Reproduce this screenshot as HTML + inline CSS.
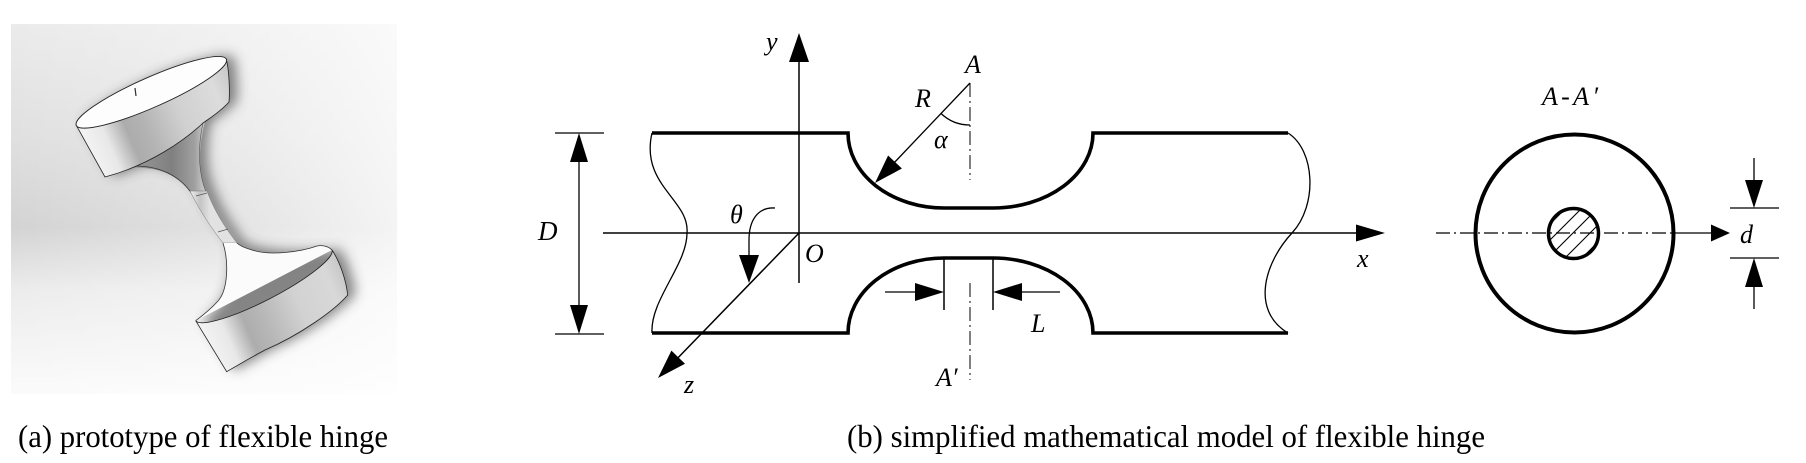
<!DOCTYPE html>
<html>
<head>
<meta charset="utf-8">
<style>
  html,body{margin:0;padding:0;background:#fff;}
  svg{display:block;}
  .lbl{font-family:"Liberation Serif","DejaVu Serif",serif;font-style:italic;font-size:26px;fill:#000;}
  .cap{font-family:"Liberation Serif","DejaVu Serif",serif;font-size:32px;fill:#000;}
</style>
</head>
<body>
<svg width="1806" height="463" viewBox="0 0 1806 463" xmlns="http://www.w3.org/2000/svg">
  <defs>
    <linearGradient id="bgV" x1="0" y1="0" x2="0" y2="1">
      <stop offset="0" stop-color="#ebebeb"/>
      <stop offset="0.3" stop-color="#e0e0e0"/>
      <stop offset="0.55" stop-color="#d3d3d3"/>
      <stop offset="0.72" stop-color="#ececec"/>
      <stop offset="1" stop-color="#fbfbfb"/>
    </linearGradient>
    <linearGradient id="bgH" x1="0" y1="0" x2="1" y2="0">
      <stop offset="0" stop-color="#fff" stop-opacity="0"/>
      <stop offset="0.5" stop-color="#fff" stop-opacity="0.3"/>
      <stop offset="1" stop-color="#fff" stop-opacity="0.75"/>
    </linearGradient>
    <linearGradient id="side1" gradientUnits="userSpaceOnUse" x1="76" y1="126" x2="229" y2="60">
      <stop offset="0" stop-color="#f4f4f4"/>
      <stop offset="0.14" stop-color="#e8e8e8"/>
      <stop offset="0.27" stop-color="#acacac"/>
      <stop offset="0.38" stop-color="#b3b3b3"/>
      <stop offset="0.6" stop-color="#d0d0d0"/>
      <stop offset="0.85" stop-color="#dcdcdc"/>
      <stop offset="1" stop-color="#c4c4c4"/>
    </linearGradient>
    <linearGradient id="side2" gradientUnits="userSpaceOnUse" x1="196" y1="321" x2="345" y2="256">
      <stop offset="0" stop-color="#f4f4f4"/>
      <stop offset="0.14" stop-color="#e8e8e8"/>
      <stop offset="0.27" stop-color="#adadad"/>
      <stop offset="0.4" stop-color="#b8b8b8"/>
      <stop offset="0.62" stop-color="#d2d2d2"/>
      <stop offset="0.85" stop-color="#d8d8d8"/>
      <stop offset="1" stop-color="#c0c0c0"/>
    </linearGradient>
    <linearGradient id="flare" gradientUnits="userSpaceOnUse" x1="130" y1="0" x2="206" y2="0">
      <stop offset="0" stop-color="#9a9a9a"/>
      <stop offset="0.55" stop-color="#808080"/>
      <stop offset="0.85" stop-color="#a0a0a0"/>
      <stop offset="1" stop-color="#d0d0d0"/>
    </linearGradient>
    <linearGradient id="neck" gradientUnits="userSpaceOnUse" x1="190" y1="0" x2="210" y2="0">
      <stop offset="0" stop-color="#eeeeee"/>
      <stop offset="0.5" stop-color="#c4c4c4"/>
      <stop offset="1" stop-color="#e2e2e2"/>
    </linearGradient>
    <filter id="blur" x="-30%" y="-30%" width="160%" height="160%">
      <feGaussianBlur stdDeviation="6"/>
    </filter>
    <clipPath id="inner">
      <circle cx="1573.5" cy="233.5" r="25"/>
    </clipPath>
    <clipPath id="photo">
      <rect x="11" y="24" width="386" height="370"/>
    </clipPath>
  </defs>

  <!-- ===== (a) photo ===== -->
  <rect x="11" y="24" width="386" height="370" fill="url(#bgV)"/>
  <rect x="11" y="24" width="386" height="370" fill="url(#bgH)"/>
  <g clip-path="url(#photo)">
    <!-- shadow -->
    <g transform="translate(8,-1)" filter="url(#blur)" opacity="0.6" fill="#3a3a3a">
      <ellipse cx="151.3" cy="92.3" rx="82" ry="15" transform="rotate(-23.8 151.3 92.3)"/>
      <path d="M76.3,125.4 L226.3,59.2 C229,70 230,90 229,102 C220,112 210,118 203,123 C185,140 150,165 105,177 Z"/>
      <path d="M135,166 L203,123 C197,150 199,175 207,191 C215,213 228,230 237,243 C260,254 300,252 332,250 C340,262 346,280 347.7,295 C335,310 300,335 265,350 L226.7,371.7 L195.7,320.7 C210,310 228,290 223,243 C205,220 197,205 190,192 C180,176 160,166 135,166 Z"/>
    </g>
    <!-- top flare -->
    <path d="M130,168 C160,166 180,176 192,194 L206,192 C199,175 197,150 206,118 Z" fill="url(#flare)"/>
    <path d="M135,166 C160,166 180,176 192,194" fill="none" stroke="#333" stroke-width="0.7"/>
    <path d="M203,123 C197,150 199,175 206,192" fill="none" stroke="#555" stroke-width="0.6"/>
    <!-- neck -->
    <path d="M190,191 C197,205 206,221 223,243 L237,243 C227,230 215,213 207,191 Z" fill="url(#neck)" stroke="#777" stroke-width="0.5"/>
    <path d="M196,196 L207,193 M218,232 L228,229" stroke="#555" stroke-width="0.7"/>
    <!-- bottom flare + face -->
    <path d="M223,243 C229,262 228,290 218,301 C210,310 202,316 195.7,320.7 L332,250 C328,246 322,245 317,246 C300,252 270,256 252,250 C245,248 240,246 237,243 Z" fill="#fbfbfb"/>
    <path d="M223,243 C229,262 228,290 218,301 C210,310 202,316 195.7,320.7" fill="none" stroke="#333" stroke-width="0.8"/>
    <path d="M237,243 C240,246 245,248 252,250 C270,256 300,252 317,246 C322,245 328,246 332,250" fill="none" stroke="#333" stroke-width="0.8"/>
    <!-- bottom drum side -->
    <path d="M195.7,320.7 A76.8,15 -27.4 0 0 332,250 C340,262 346,280 347.7,295 C335,310 300,335 265,350 C250,358 238,365 226.7,371.7 Z" fill="url(#side2)" stroke="#222" stroke-width="0.8"/>
    <!-- top drum side -->
    <path d="M76.3,125.4 L226.3,59.2 C229,70 230,90 229,102 C220,112 210,118 203,123 C185,140 150,165 105,177 Z" fill="url(#side1)" stroke="#222" stroke-width="0.8"/>
    <!-- top drum face -->
    <ellipse cx="151.3" cy="92.3" rx="82" ry="15" transform="rotate(-23.8 151.3 92.3)" fill="#fdfdfd" stroke="#222" stroke-width="0.9"/>
    <path d="M135,88 L136,96" stroke="#333" stroke-width="1.2"/>
  </g>

  <!-- ===== (b) model ===== -->
  <g fill="none" stroke="#000">
    <path d="M652,133 H848 A96,75 0 0 0 944,208 H993 A100,75 0 0 0 1093,133 H1288" stroke-width="3.6"/>
    <path d="M652,333 H848 A96,75 0 0 1 944,258 H993 A100,75 0 0 1 1093,333 H1288" stroke-width="3.6"/>
    <path d="M652,133 C640,185 690,200 687,233 C687,265 650,300 652,333" stroke-width="1.3"/>
    <path d="M1288,133 C1315,150 1318,205 1292,233 C1265,262 1250,310 1288,333" stroke-width="1.3"/>
    <path d="M603,233 H1360" stroke-width="1.5"/>
    <path d="M799,283 V60" stroke-width="1.5"/>
    <path d="M799,233 L671,365" stroke-width="1.5"/>
    <path d="M555,133 H604 M555,334 H604" stroke-width="1.3"/>
    <path d="M579,160 V306" stroke-width="1.3"/>
    <path d="M775,208 C758,207 749,220 749,240 V257" stroke-width="1.3"/>
    <path d="M970,83 L893,164" stroke-width="1.3"/>
    <path d="M941,113.5 A42,42 0 0 0 970,125" stroke-width="1.3"/>
    <path d="M970,83 V180 M970,283 V380" stroke-width="1" stroke-dasharray="14 4 2 4"/>
    <path d="M944,258 V310 M993,258 V310" stroke-width="1.5"/>
    <path d="M885,292 H916 M1060,292 H1022" stroke-width="1.3"/>
    <path d="M1436,233 H1673" stroke-width="1.2" stroke-dasharray="14 4 2 4"/>
    <path d="M1673,233 H1712" stroke-width="1.3"/>
    <circle cx="1574.5" cy="233.5" r="99" stroke-width="4"/>
    <g clip-path="url(#inner)" stroke-width="1.1">
      <path d="M1540,234 L1574,200 M1540,250 L1590,200 M1548,258 L1598,208 M1557,266 L1607,216 M1566,274 L1616,224"/>
    </g>
    <circle cx="1573.5" cy="233.5" r="25" stroke-width="3.5"/>
    <path d="M1730,208 H1779 M1730,258 H1779" stroke-width="1.3"/>
    <path d="M1754,158 V182 M1754,285 V309" stroke-width="1.3"/>
  </g>

  <g fill="#000">
    <polygon points="1385,233 1356,224.5 1356,241.5"/>
    <polygon points="799,33 789,62 809,62"/>
    <polygon points="658,378 685,363.8 671.4,350.6"/>
    <polygon points="579,133 570,162 588,162"/>
    <polygon points="579,334 570,305 588,305"/>
    <polygon points="749,283 739,255 759,255"/>
    <polygon points="875,183 901.9,168.5 888.1,155.5"/>
    <polygon points="944,292 915,283 915,301"/>
    <polygon points="993,292 1022,283 1022,301"/>
    <polygon points="1730,233 1711,224.5 1711,241.5"/>
    <polygon points="1754,208 1745,180 1763,180"/>
    <polygon points="1754,258 1745,287 1763,287"/>
  </g>

  <!-- labels -->
  <text class="lbl" x="766" y="50">y</text>
  <text class="lbl" x="965" y="73">A</text>
  <text class="lbl" x="915" y="107">R</text>
  <text class="lbl" x="934" y="148">α</text>
  <text class="lbl" x="538" y="240" style="font-size:27px">D</text>
  <text class="lbl" x="730" y="223">θ</text>
  <text class="lbl" x="805" y="262">O</text>
  <text class="lbl" x="684" y="393">z</text>
  <text class="lbl" x="1031" y="332">L</text>
  <text class="lbl" x="936" y="386">A′</text>
  <text class="lbl" x="1357" y="267">x</text>
  <text class="lbl" x="1542" y="105" textLength="56" lengthAdjust="spacing">A-A′</text>
  <text class="lbl" x="1740" y="243">d</text>

  <text class="cap" x="18" y="447" textLength="370" lengthAdjust="spacingAndGlyphs">(a) prototype of flexible hinge</text>
  <text class="cap" x="847" y="447" textLength="638" lengthAdjust="spacingAndGlyphs">(b) simplified mathematical model of flexible hinge</text>
</svg>
</body>
</html>
